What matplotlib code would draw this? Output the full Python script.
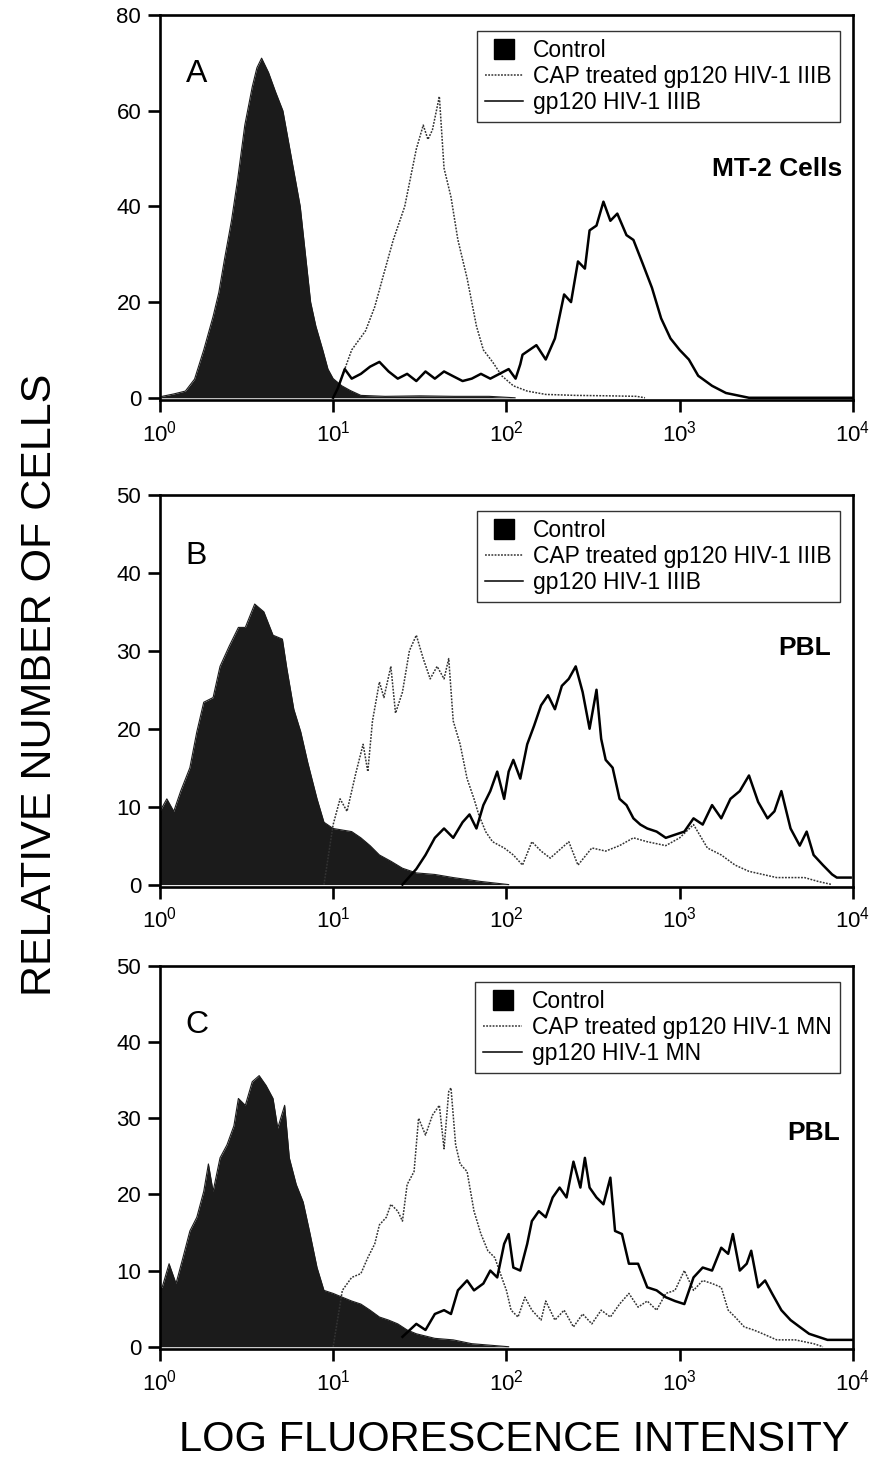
import matplotlib
matplotlib.use("Agg")
import matplotlib.pyplot as plt
import numpy as np
from matplotlib.lines import Line2D

plt.rcParams['font.family'] = ['Liberation Sans', 'DejaVu Sans']
plt.rcParams['mathtext.default'] = 'regular'

# values: x as log10(fluorescence), y = relative number of cells
# panel A, MT-2 cells
a_ctrl_lx = [0.0, 0.013, 0.08, 0.147, 0.2, 0.253, 0.307, 0.34, 0.373, 0.413, 0.45, 0.49, 0.533, 0.56, 0.587,
             0.627, 0.667, 0.71, 0.76, 0.81, 0.84, 0.87, 0.9, 0.94, 0.97, 1.0, 1.05, 1.1, 1.16, 1.3, 1.5,
             1.7, 1.9, 2.05]
a_ctrl_y = [0, 0.3, 0.8, 1.4, 3.9, 10, 17, 22, 29, 37, 46, 57, 65, 69, 71,
            68, 64, 60, 50, 40, 30, 20, 15, 10, 6, 4, 2.5, 1.5, 0.5, 0.3, 0.4,
            0.3, 0.3, 0]
a_cap_lx = [1.0, 1.027, 1.067, 1.107, 1.187, 1.24, 1.293, 1.347, 1.413, 1.48, 1.52, 1.547, 1.573, 1.613,
            1.64, 1.68, 1.72, 1.773, 1.827, 1.867, 1.92, 1.973, 2.04, 2.12, 2.227, 2.4, 2.6, 2.75, 2.8]
a_cap_y = [0, 2, 6, 10, 14, 19, 26, 33, 40, 52, 57, 54, 56, 63,
           48, 42, 33, 25, 15, 10, 7.5, 4.6, 2.5, 1.4, 0.7, 0.5, 0.4, 0.3, 0]
a_gp_lx = [1.0, 1.027, 1.067, 1.107, 1.16, 1.213, 1.267, 1.32, 1.373, 1.427, 1.48, 1.533, 1.587, 1.64,
           1.693, 1.747, 1.8, 1.853, 1.907, 1.96, 2.013, 2.053, 2.08, 2.093, 2.173, 2.227, 2.28, 2.333,
           2.373, 2.413, 2.453, 2.48, 2.52, 2.56, 2.6, 2.64, 2.693, 2.733, 2.787, 2.84, 2.893, 2.947,
           3.0, 3.053, 3.107, 3.187, 3.267, 3.4, 3.6, 3.8, 4.0]
a_gp_y = [0, 2, 6, 4, 5, 6.5, 7.5, 5.5, 4, 5, 3.5, 5.5, 4, 5.5,
          4.5, 3.5, 4, 5, 4, 5, 6, 4, 7, 9, 11, 8, 12.4, 21.6,
          20, 28.5, 27, 35, 36, 41, 37, 38.5, 34, 33, 28, 23, 16.6, 12.4,
          10, 8, 4.6, 2.5, 1, 0, 0, 0, 0]

# panel B, PBL
b_ctrl_lx = [0.0, 0.04, 0.08, 0.12, 0.173, 0.213, 0.253, 0.307, 0.347, 0.4, 0.453, 0.493, 0.547, 0.6,
             0.653, 0.707, 0.733, 0.773, 0.813, 0.853, 0.907, 0.947, 1.0, 1.053, 1.107, 1.16, 1.213,
             1.267, 1.333, 1.4, 1.48, 1.587, 1.693, 1.853, 2.013]
b_ctrl_y = [9.4, 11, 9.4, 12, 15, 19.6, 23.4, 24, 28, 30.6, 33, 33, 36, 35,
            32, 31.5, 27.7, 22.5, 19.6, 15.7, 11, 8, 7.2, 7, 6.8, 6, 5,
            3.8, 3, 2.1, 1.5, 1.3, 0.9, 0.4, 0]
b_cap_lx = [0.947, 1.0, 1.04, 1.08, 1.133, 1.173, 1.2, 1.227, 1.267, 1.293, 1.333, 1.36, 1.4, 1.44,
            1.48, 1.52, 1.56, 1.6, 1.64, 1.667, 1.693, 1.733, 1.773, 1.813, 1.84, 1.88, 1.92, 1.987,
            2.04, 2.093, 2.147, 2.2, 2.253, 2.36, 2.413, 2.493, 2.573, 2.653, 2.733, 2.813, 2.92,
            3.0, 3.08, 3.16, 3.24, 3.32, 3.4, 3.48, 3.56, 3.72, 3.8, 3.88]
b_cap_y = [0, 7.7, 11, 9.4, 14.5, 18, 14.5, 21, 26, 24, 28, 22, 24.7, 30,
           32, 29, 26.4, 28, 26.4, 29, 21, 18, 13.6, 11, 9, 6.8, 5.5, 4.7,
           3.8, 2.5, 5.5, 4.3, 3.4, 5.5, 2.5, 4.7, 4.3, 5, 6, 5.5, 5,
           6, 7.7, 4.7, 3.8, 2.5, 1.7, 1.3, 0.9, 0.9, 0.4, 0]
b_gp_lx = [1.4, 1.48, 1.533, 1.587, 1.64, 1.693, 1.747, 1.787, 1.827, 1.867, 1.907, 1.947, 1.987,
           2.013, 2.04, 2.08, 2.12, 2.16, 2.2, 2.24, 2.28, 2.32, 2.36, 2.4, 2.44, 2.48, 2.52, 2.547,
           2.573, 2.613, 2.653, 2.693, 2.733, 2.773, 2.813, 2.867, 2.92, 2.973, 3.027, 3.08, 3.133,
           3.187, 3.24, 3.293, 3.347, 3.4, 3.453, 3.507, 3.547, 3.587, 3.64, 3.693, 3.733, 3.773,
           3.827, 3.88, 3.907, 3.987]
b_gp_y = [0, 2, 3.8, 6, 7.2, 6, 8, 9, 7.2, 10.2, 12, 14.5, 11,
          14.5, 16, 13.6, 18, 20.4, 23, 24.3, 22.5, 25.5, 26.4, 28, 24.7, 20, 25, 18.7,
          16, 15, 11, 10.2, 8.5, 7.7, 7.2, 6.8, 6, 6.4, 6.8, 8.5, 7.7,
          10.2, 8.5, 11, 12, 14, 10.6, 8.5, 9.4, 12, 7.2, 5, 6.8, 3.8,
          2.5, 1.3, 0.9, 0.9]

# panel C, PBL
c_ctrl_lx = [0.0, 0.013, 0.053, 0.093, 0.133, 0.173, 0.213, 0.253, 0.28, 0.307, 0.347, 0.387, 0.427,
             0.453, 0.493, 0.533, 0.573, 0.613, 0.653, 0.68, 0.72, 0.747, 0.787, 0.827, 0.867, 0.907,
             0.947, 1.0, 1.053, 1.107, 1.16, 1.213, 1.267, 1.32, 1.373, 1.427, 1.48, 1.587, 1.693,
             1.8, 2.013]
c_ctrl_y = [7.8, 7.8, 10.9, 8.3, 11.7, 15.2, 17, 20.4, 24, 20.4, 24.8, 26.5, 29,
            32.6, 31.7, 34.8, 35.6, 34.3, 32.6, 28.7, 31.7, 24.8, 21.3, 19, 14.8, 10.4,
            7.4, 7, 6.5, 6, 5.6, 4.8, 3.9, 3.5, 3, 2.2, 1.7, 1.1, 0.9,
            0.4, 0]
c_cap_lx = [1.0, 1.053, 1.107, 1.16, 1.2, 1.24, 1.267, 1.307, 1.333, 1.373, 1.4, 1.427, 1.467, 1.493,
            1.533, 1.573, 1.613, 1.64, 1.667, 1.68, 1.707, 1.733, 1.773, 1.813, 1.853, 1.893, 1.933,
            1.973, 2.0, 2.027, 2.067, 2.107, 2.147, 2.2, 2.227, 2.28, 2.333, 2.387, 2.44, 2.493,
            2.547, 2.6, 2.653, 2.707, 2.76, 2.813, 2.867, 2.92, 2.973, 3.027, 3.08, 3.133, 3.187,
            3.24, 3.28, 3.32, 3.373, 3.427, 3.48, 3.56, 3.667, 3.773, 3.827]
c_cap_y = [0, 7.4, 9.1, 9.6, 11.7, 13.5, 16, 17, 18.7, 17.8, 16.5, 21.3, 23, 30,
           27.8, 30.4, 31.7, 26, 33.5, 34, 26.5, 24, 23, 17.8, 14.8, 12.6, 11.7,
           9.1, 7.4, 4.8, 3.9, 6.5, 4.8, 3.5, 6, 3.5, 4.8, 2.6, 4.3, 3,
           4.8, 3.9, 5.6, 7, 5.2, 6, 4.8, 7, 7.4, 10, 7.4, 8.7, 8.3,
           7.8, 4.8, 3.9, 2.6, 2.2, 1.7, 0.9, 0.9, 0.4, 0]
c_gp_lx = [1.4, 1.48, 1.533, 1.587, 1.64, 1.68, 1.72, 1.773, 1.813, 1.867, 1.907, 1.947, 1.987,
           2.013, 2.04, 2.08, 2.12, 2.147, 2.187, 2.227, 2.267, 2.307, 2.347, 2.387, 2.427, 2.453,
           2.48, 2.52, 2.56, 2.6, 2.627, 2.667, 2.707, 2.76, 2.813, 2.867, 2.92, 2.973, 3.027,
           3.08, 3.133, 3.187, 3.24, 3.28, 3.307, 3.347, 3.387, 3.413, 3.453, 3.493, 3.533, 3.587,
           3.64, 3.693, 3.747, 3.8, 3.853, 3.907, 4.0]
c_gp_y = [1.3, 3, 2.2, 4.3, 4.8, 4.3, 7.4, 8.7, 7.4, 8.3, 10, 9.1, 13.5,
          14.8, 10.4, 10, 13.5, 16.5, 17.8, 17, 19.6, 20.9, 19.6, 24.3, 20.9, 24.8,
          20.9, 19.6, 18.7, 22.2, 15.2, 14.8, 10.9, 10.9, 7.8, 7.4, 6.5, 6, 5.6,
          9.1, 10.4, 10, 13, 12.2, 14.8, 10, 10.9, 12.6, 7.8, 8.7, 7, 4.8,
          3.5, 2.6, 1.7, 1.3, 0.9, 0.9, 0.9]

panels = [
    ("A", "MT-2 Cells", 80, [0, 20, 40, 60, 80],
     (a_ctrl_lx, a_ctrl_y), (a_cap_lx, a_cap_y), (a_gp_lx, a_gp_y),
     ["Control", "CAP treated gp120 HIV-1 IIIB", "gp120 HIV-1 IIIB"]),
    ("B", "PBL", 50, [0, 10, 20, 30, 40, 50],
     (b_ctrl_lx, b_ctrl_y), (b_cap_lx, b_cap_y), (b_gp_lx, b_gp_y),
     ["Control", "CAP treated gp120 HIV-1 IIIB", "gp120 HIV-1 IIIB"]),
    ("C", "PBL", 50, [0, 10, 20, 30, 40, 50],
     (c_ctrl_lx, c_ctrl_y), (c_cap_lx, c_cap_y), (c_gp_lx, c_gp_y),
     ["Control", "CAP treated gp120 HIV-1 MN", "gp120 HIV-1 MN"]),
]

fig = plt.figure(figsize=(8.69, 14.66), dpi=100)
rects = [[0.184, 0.7271, 0.7975, 0.2626],
         [0.184, 0.3950, 0.7975, 0.2674],
         [0.184, 0.0798, 0.7975, 0.2613]]
# where the cell-type label sits in each panel (axes fraction)
cell_pos = [(0.984, 0.60), (0.968, 0.61), (0.982, 0.564)]

for rect, cpos, (letter, cells, ymax, yticks, ctrl, cap, gp, labels) in zip(rects, cell_pos, panels):
    ax = fig.add_axes(rect)
    ax.set_xscale('log')
    cx = 10 ** np.array(ctrl[0])
    ax.fill_between(cx, ctrl[1], 0, color='#1b1b1b', lw=0, zorder=2)
    ax.plot(cx, ctrl[1], color='#1b1b1b', lw=0.8, zorder=2)
    ax.plot(10 ** np.array(cap[0]), cap[1], color='#333333', lw=1.1,
            linestyle=(0, (1.2, 0.9)), zorder=3)
    ax.plot(10 ** np.array(gp[0]), gp[1], color='black', lw=1.8, zorder=4)

    ax.set_xlim(1, 1e4)
    ax.set_ylim(-ymax * 0.006, ymax)
    ax.set_yticks(yticks)
    ax.set_xticks([1, 10, 100, 1000, 10000])
    ax.xaxis.set_minor_locator(matplotlib.ticker.NullLocator())
    for s in ax.spines.values():
        s.set_linewidth(1.9)
    ax.tick_params(axis='both', direction='out', length=8.5, width=1.9, labelsize=16)
    ax.tick_params(axis='x', pad=6)
    ax.tick_params(axis='y', pad=5)

    ax.text(0.037, 0.825, letter, transform=ax.transAxes, fontsize=23, va='baseline')
    ax.text(cpos[0], cpos[1], cells, transform=ax.transAxes,
            fontsize=19, fontweight='bold', ha='right', va='center')

    handles = [Line2D([], [], color='black', marker='s', markersize=15, linestyle='none'),
               Line2D([], [], color='#333333', lw=1.1, linestyle=(0, (1.2, 0.9))),
               Line2D([], [], color='black', lw=1.1)]
    leg = ax.legend(handles, labels, loc='upper right', bbox_to_anchor=(0.981, 0.958),
                    fontsize=16.5, frameon=True, fancybox=False, borderpad=0.35,
                    handlelength=1.7, handletextpad=0.42, labelspacing=0.12,
                    borderaxespad=0)
    leg.get_frame().set_edgecolor('black')
    leg.get_frame().set_linewidth(1.0)

fig.text(0.046, 0.533, "RELATIVE NUMBER OF CELLS", rotation=90, va='center', ha='center',
         fontsize=31)
fig.text(0.592, 0.0175, "LOG FLUORESCENCE INTENSITY", va='center', ha='center',
         fontsize=30)

fig.savefig("out.png", dpi=100)
